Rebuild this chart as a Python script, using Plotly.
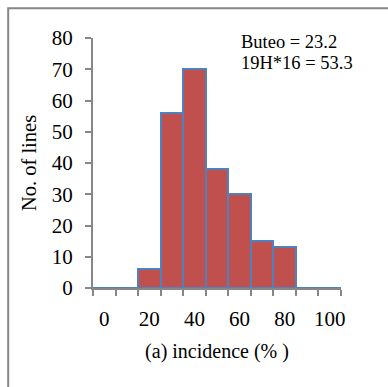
import plotly.graph_objects as go

categories = [0, 10, 20, 30, 40, 50, 60, 70, 80, 90, 100]
counts = [0, 0, 6, 56, 70, 38, 30, 15, 13, 0, 0]
tick_labels = ["0", "20", "40", "60", "80", "100"]
tick_values = [0, 20, 40, 60, 80, 100]
y_ticks = [0, 10, 20, 30, 40, 50, 60, 70, 80]
notes = ["Buteo = 23.2", "19H*16 = 53.3"]

W, H = 388, 387
L, R, T, B = 92.7, 47, 37.7, 98.7
pw, ph = W - L - R, H - T - B

def px(x):
    return (x - L) / pw

def py(y):
    return (H - B - y) / ph

FONT = "Liberation Serif"
GRAY = "#878787"

fig = go.Figure()
fig.add_trace(go.Bar(
    x=categories, y=counts, width=10,
    marker=dict(color="#C0504D", line=dict(color="#4F81BD", width=2)),
    showlegend=False,
))

fig.update_layout(
    width=W, height=H,
    margin=dict(l=L, r=R, t=T, b=B, pad=0),
    paper_bgcolor="white", plot_bgcolor="white",
    bargap=0,
    font=dict(family=FONT, size=19, color="black"),
    xaxis=dict(
        range=[-5, 105], tickmode="array", tickvals=tick_values, ticktext=tick_labels,
        ticks="", showgrid=False, zeroline=False,
        showline=True, linecolor=GRAY, linewidth=2,
        ticklabelstandoff=11,
        minor=dict(tickmode="linear", tick0=-5, dtick=10, ticks="outside",
                   ticklen=6, tickcolor=GRAY, tickwidth=2, showgrid=False),
        title=dict(text="(a) incidence (% )", font=dict(family=FONT, size=20, color="black"), standoff=14),
        tickfont=dict(family=FONT, size=21, color="black"),
    ),
    yaxis=dict(
        range=[0, 80], tickmode="array", tickvals=y_ticks,
        ticks="outside", ticklen=6, tickcolor=GRAY, tickwidth=2,
        showgrid=False, zeroline=False,
        showline=True, linecolor=GRAY, linewidth=2,
        ticklabelstandoff=8,
        title=dict(text="No. of lines", font=dict(family=FONT, size=20.5, color="black"), standoff=10),
        tickfont=dict(family=FONT, size=21, color="black"),
    ),
)

fig.add_shape(type="rect", xref="paper", yref="paper",
              x0=px(7.8), x1=px(420), y0=py(420), y1=py(8),
              line=dict(color=GRAY, width=2), fillcolor="rgba(0,0,0,0)", layer="above")

for i, t in enumerate(notes):
    fig.add_annotation(text=t, xref="paper", yref="paper", x=px(239), y=py(42 + 21 * i),
                       xanchor="left", yanchor="middle", showarrow=False,
                       font=dict(family=FONT, size=18.5, color="black"))

fig.write_html("out.html")
